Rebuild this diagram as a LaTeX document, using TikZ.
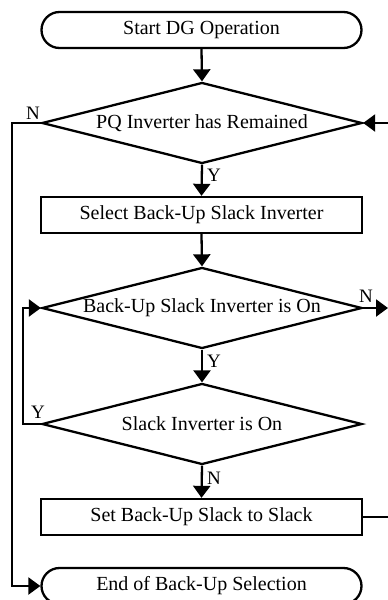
\documentclass[tikz,border=0pt]{standalone}
\usepackage{fontspec}
\setmainfont{Liberation Serif}
\usetikzlibrary{shapes.geometric,arrows.meta}
\begin{document}
\begin{tikzpicture}[x=1pt,y=-1pt,
  every node/.style={font=\fontsize{20}{24}\selectfont},
  arr/.style={line width=2.3pt,-{Triangle[length=12pt,width=17pt]}},
  term/.style={draw,line width=2.3pt,rectangle,rounded corners=18pt,minimum width=320pt,minimum height=36pt,inner sep=0pt},
  proc/.style={draw,line width=2.3pt,rectangle,minimum width=321pt,minimum height=36pt,inner sep=0pt},
  dec/.style={draw,line width=2.3pt,diamond,aspect=1,minimum width=320pt,minimum height=81pt,inner sep=0pt},
  lab/.style={font=\fontsize{19}{22}\selectfont,inner sep=0pt}]
\useasboundingbox (0,0) rectangle (388,600);
\clip (0,0) rectangle (388,600);
\node[term] (start) at (201.5,30) {Start DG Operation};
\node[dec] (d1) at (202,123) {\makebox[0pt]{PQ Inverter has Remained}};
\node[proc] (b1) at (201.5,215) {Select Back-Up Slack Inverter};
\node[dec] (d2) at (202,308) {\makebox[0pt]{Back-Up Slack Inverter is On}};
\node[dec] (d3) at (202,424) {\makebox[0pt]{Slack Inverter is On}};
\node[proc] (b2) at (201.5,517) {Set Back-Up Slack to Slack};
\node[term] (end) at (201.5,586) {End of Back-Up Selection};
\coordinate (cL1) at (12,123);
\coordinate (cL2) at (23,424);
\coordinate (cR1) at (388,308);
\coordinate (cR2) at (393,517);
\coordinate (cR3) at (393,123);
\draw[arr] (start.south) -- (d1.north);
\draw[arr] (d1.south) -- (b1.north);
\draw[arr] (b1.south) -- (d2.north);
\draw[arr] (d2.south) -- (d3.north);
\draw[arr] (d3.south) -- (b2.north);
\draw[arr] (d1.west) -- (cL1) |- (end.west);
\draw[arr] (d3.west) -- (cL2) |- (d2.west);
\draw[arr] (d2.east) -- (cR1);
\draw[arr] (b2.east) -- (cR2) -- (cR3) -- (d1.east);
\node[lab] (n1) at (33,113) {N};
\node[lab] (y1) at (214,175) {Y};
\node[lab] (n2) at (366,296) {N};
\node[lab] (y2) at (214,361) {Y};
\node[lab] (y3) at (38,412) {Y};
\node[lab] (n3) at (214,478) {N};
\end{tikzpicture}
\end{document}
